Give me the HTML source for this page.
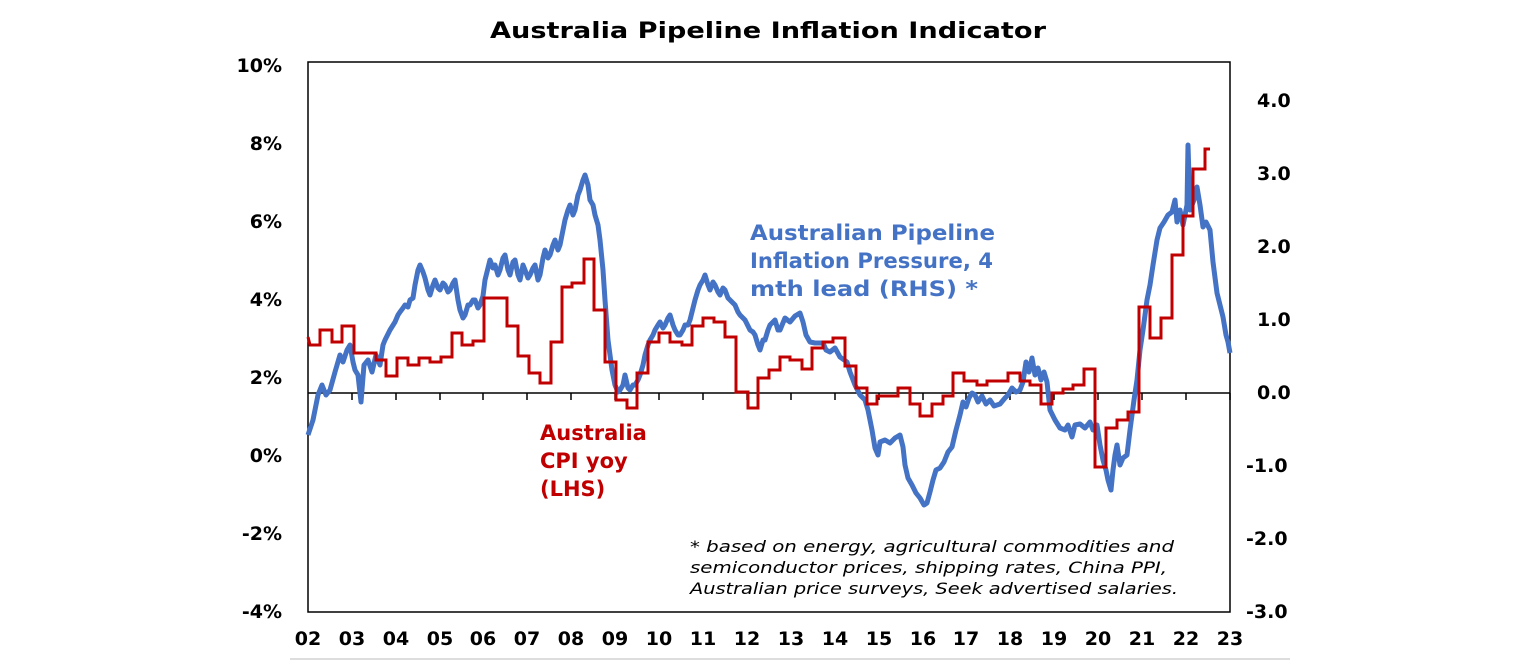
<!DOCTYPE html>
<html><head><meta charset="utf-8"><style>
html,body{margin:0;padding:0;background:#fff;}
svg{display:block;font-family:"DejaVu Sans","Liberation Sans",sans-serif;}
</style></head><body>
<svg width="1536" height="661" viewBox="0 0 1536 661" xmlns="http://www.w3.org/2000/svg">
<text x="490" y="38" font-size="22" font-weight="bold" fill="#000" textLength="556" lengthAdjust="spacingAndGlyphs">Australia Pipeline Inflation Indicator</text>
<rect x="308" y="62" width="922" height="550" fill="none" stroke="#000" stroke-width="1.5"/>
<line x1="308" y1="393" x2="1230" y2="393" stroke="#000" stroke-width="1.5"/>
<g stroke="#000" stroke-width="1.5">
<line x1="352" y1="393" x2="352" y2="400"/><line x1="396" y1="393" x2="396" y2="400"/><line x1="440" y1="393" x2="440" y2="400"/><line x1="483" y1="393" x2="483" y2="400"/><line x1="527" y1="393" x2="527" y2="400"/><line x1="571" y1="393" x2="571" y2="400"/><line x1="615" y1="393" x2="615" y2="400"/><line x1="659" y1="393" x2="659" y2="400"/><line x1="703" y1="393" x2="703" y2="400"/><line x1="747" y1="393" x2="747" y2="400"/><line x1="791" y1="393" x2="791" y2="400"/><line x1="835" y1="393" x2="835" y2="400"/><line x1="879" y1="393" x2="879" y2="400"/><line x1="923" y1="393" x2="923" y2="400"/><line x1="966" y1="393" x2="966" y2="400"/><line x1="1010" y1="393" x2="1010" y2="400"/><line x1="1054" y1="393" x2="1054" y2="400"/><line x1="1098" y1="393" x2="1098" y2="400"/><line x1="1142" y1="393" x2="1142" y2="400"/><line x1="1186" y1="393" x2="1186" y2="400"/><line x1="1230" y1="393" x2="1230" y2="400"/>
</g>
<g font-size="19" font-weight="bold" fill="#000" text-anchor="end">
<text x="282" y="72">10%</text><text x="282" y="150">8%</text><text x="282" y="228">6%</text><text x="282" y="306">4%</text><text x="282" y="384">2%</text><text x="282" y="462">0%</text><text x="282" y="540">-2%</text><text x="282" y="618">-4%</text>
</g>
<g font-size="19" font-weight="bold" fill="#000" text-anchor="start">
<text x="1257" y="107">4.0</text><text x="1257" y="180">3.0</text><text x="1257" y="253">2.0</text><text x="1257" y="326">1.0</text><text x="1257" y="399">0.0</text><text x="1246" y="472">-1.0</text><text x="1246" y="545">-2.0</text><text x="1246" y="618">-3.0</text>
</g>
<g font-size="19" font-weight="bold" fill="#000" text-anchor="middle">
<text x="308" y="645">02</text><text x="352" y="645">03</text><text x="396" y="645">04</text><text x="440" y="645">05</text><text x="483" y="645">06</text><text x="527" y="645">07</text><text x="571" y="645">08</text><text x="615" y="645">09</text><text x="659" y="645">10</text><text x="703" y="645">11</text><text x="747" y="645">12</text><text x="791" y="645">13</text><text x="835" y="645">14</text><text x="879" y="645">15</text><text x="923" y="645">16</text><text x="966" y="645">17</text><text x="1010" y="645">18</text><text x="1054" y="645">19</text><text x="1098" y="645">20</text><text x="1142" y="645">21</text><text x="1186" y="645">22</text><text x="1230" y="645">23</text>
</g>
<line x1="290" y1="659" x2="1290" y2="659" stroke="#bbb" stroke-width="1"/>
<polyline fill="none" stroke="#4472C4" stroke-width="5" stroke-linejoin="round" points="308,435 313,420 316,405 318,395 322,385 326,395 330,390 335,372 340,355 343,362 347,350 350,345 353,362 355,370 358,375 361,402 364,365 368,360 372,372 376,355 380,365 383,345 385,340 390,330 395,322 398,315 400,312 403,308 405,305 408,307 410,300 413,298 415,285 418,270 420,265 423,272 425,278 428,290 430,295 433,285 435,280 438,288 440,290 443,283 445,285 448,292 450,290 453,283 455,280 458,300 460,310 463,318 465,315 468,305 470,305 473,300 475,300 478,308 480,305 483,296 485,280 488,268 490,260 493,268 495,265 498,275 500,270 503,258 505,255 508,270 510,275 513,262 515,260 518,275 520,280 523,265 525,270 528,278 530,275 533,268 535,265 538,280 540,275 543,258 545,250 548,258 550,255 553,245 555,240 558,250 560,245 563,230 565,220 568,210 570,205 573,215 575,210 578,195 580,190 583,180 585,175 588,185 590,200 593,205 595,215 598,225 600,240 603,270 605,300 608,340 612,370 615,385 618,392 620,390 623,385 625,375 628,388 630,390 633,385 635,385 638,380 640,375 643,365 645,355 648,345 650,340 653,335 655,330 658,325 660,322 663,328 665,325 668,318 670,315 673,325 675,330 678,335 680,335 683,330 685,325 688,325 690,320 693,308 695,300 698,290 700,285 703,280 705,275 708,285 710,290 713,282 715,285 718,292 720,295 723,288 725,290 728,298 730,300 733,303 735,305 738,312 740,315 743,318 745,320 748,326 750,330 753,332 755,335 758,345 760,350 763,340 765,340 768,330 770,325 773,322 775,320 778,330 780,330 785,318 790,322 795,316 800,313 803,322 806,335 810,342 815,343 823,343 826,350 830,352 835,348 840,357 847,362 850,372 855,385 860,395 865,400 868,410 872,430 875,448 878,455 880,442 885,440 890,443 895,438 900,435 903,447 905,465 908,478 912,485 916,493 920,498 924,505 927,503 930,492 933,480 936,470 940,468 944,462 948,452 952,447 956,430 960,415 963,402 966,407 969,398 972,393 975,395 978,402 982,396 986,404 990,400 994,406 1000,404 1005,398 1008,395 1012,388 1016,392 1020,390 1023,382 1026,362 1029,372 1032,358 1035,375 1038,368 1041,380 1044,372 1047,382 1050,410 1055,420 1060,428 1065,430 1068,425 1072,437 1075,425 1080,424 1085,428 1090,422 1093,430 1097,425 1100,445 1103,460 1106,470 1108,480 1111,490 1113,470 1115,455 1117,445 1120,465 1123,458 1127,455 1130,430 1134,400 1137,380 1140,350 1143,330 1147,300 1150,285 1153,265 1157,240 1160,228 1164,222 1168,215 1172,212 1175,200 1177,222 1180,210 1183,225 1185,215 1187,205 1188,145 1190,210 1194,200 1197,187 1200,205 1203,227 1206,222 1210,230 1213,262 1217,293 1220,305 1223,317 1226,335 1228,342 1230,353"/>
<polyline fill="none" stroke="#C00000" stroke-width="3" stroke-linejoin="miter" points="308,337 310,345 320,345 320,330 332,330 332,342 342,342 342,326 354,326 354,353 376,353 376,360 386,360 386,376 397,376 397,358 408,358 408,365 419,365 419,358 430,358 430,362 441,362 441,357 452,357 452,333 462,333 462,345 473,345 473,341 484,341 484,298 507,298 507,326 518,326 518,356 529,356 529,373 540,373 540,383 551,383 551,342 562,342 562,287 572,287 572,283 584,283 584,259 594,259 594,310 605,310 605,362 616,362 616,400 627,400 627,408 637,408 637,373 648,373 648,342 659,342 659,333 670,333 670,342 682,342 682,345 692,345 692,326 703,326 703,318 714,318 714,322 725,322 725,337 736,337 736,392 748,392 748,408 758,408 758,378 769,378 769,370 780,370 780,357 790,357 790,360 802,360 802,369 812,369 812,348 823,348 823,342 833,342 833,338 845,338 845,366 856,366 856,388 867,388 867,404 877,404 877,396 898,396 898,388 910,388 910,404 920,404 920,416 932,416 932,404 943,404 943,396 953,396 953,373 964,373 964,381 977,381 977,385 987,385 987,381 1008,381 1008,373 1020,373 1020,381 1030,381 1030,385 1041,385 1041,404 1052,404 1052,393 1063,393 1063,389 1073,389 1073,385 1084,385 1084,369 1095,369 1095,467 1106,467 1106,428 1117,428 1117,420 1128,420 1128,412 1139,412 1139,307 1150,307 1150,338 1161,338 1161,318 1172,318 1172,255 1183,255 1183,216 1193,216 1193,169 1205,169 1205,149 1210,149"/>
<g font-size="21" font-weight="bold" fill="#4472C4">
<text x="750" y="240" textLength="245" lengthAdjust="spacingAndGlyphs">Australian Pipeline</text>
<text x="750" y="268" textLength="243" lengthAdjust="spacingAndGlyphs">Inflation Pressure, 4</text>
<text x="750" y="296" textLength="228" lengthAdjust="spacingAndGlyphs">mth lead (RHS) *</text>
</g>
<g font-size="21" font-weight="bold" fill="#C00000">
<text x="540" y="440">Australia</text>
<text x="540" y="468">CPI yoy</text>
<text x="540" y="496">(LHS)</text>
</g>
<g font-size="16" font-style="italic" fill="#000">
<text x="690" y="552" textLength="484" lengthAdjust="spacingAndGlyphs">* based on energy, agricultural commodities and</text>
<text x="690" y="573" textLength="477" lengthAdjust="spacingAndGlyphs">semiconductor prices, shipping rates, China PPI,</text>
<text x="690" y="594" textLength="488" lengthAdjust="spacingAndGlyphs">Australian price surveys, Seek advertised salaries.</text>
</g>
</svg>
</body></html>
